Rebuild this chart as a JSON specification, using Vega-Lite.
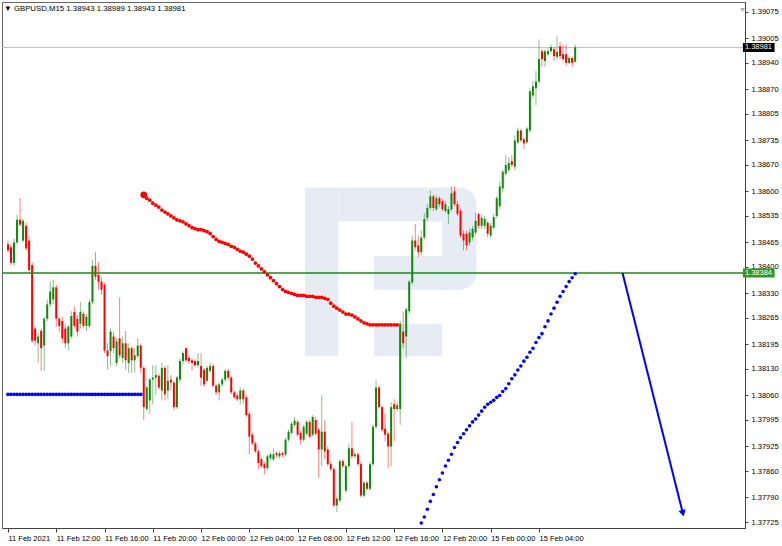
{
  "$schema": "https://vega.github.io/schema/vega-lite/v6.json",
  "width": 743,
  "height": 526,
  "autosize": {"type": "none"},
  "padding": {"left": 2, "top": 2, "right": 37, "bottom": 18},
  "background": "white",
  "config": {"view": {"stroke": "#666", "strokeWidth": 1}, "font": "Liberation Sans", "axis": {"labelOverlap": false}},
  "title": {"text": "▼ GBPUSD,M15  1.38943 1.38989 1.38943 1.38981", "anchor": "start", "frame": "group", "orient": "top", "offset": -11, "dx": 2, "fontSize": 7.8, "fontWeight": "normal", "font": "Liberation Sans", "color": "#000"},
  "datasets": {
    "candles": [
      {"i":0,"o":1.38460,"h":1.38470,"l":1.38439,"c":1.38444},
      {"i":1,"o":1.38452,"h":1.38460,"l":1.38403,"c":1.38411},
      {"i":2,"o":1.38411,"h":1.38475,"l":1.38403,"c":1.38465},
      {"i":3,"o":1.38465,"h":1.38538,"l":1.38460,"c":1.38525},
      {"i":4,"o":1.38525,"h":1.38582,"l":1.38507,"c":1.38512},
      {"i":5,"o":1.38470,"h":1.38527,"l":1.38465,"c":1.38522},
      {"i":6,"o":1.38509,"h":1.38517,"l":1.38444,"c":1.38449},
      {"i":7,"o":1.38470,"h":1.38481,"l":1.38387,"c":1.38392},
      {"i":8,"o":1.38405,"h":1.38413,"l":1.38198,"c":1.38205},
      {"i":9,"o":1.38237,"h":1.38242,"l":1.38192,"c":1.38205},
      {"i":10,"o":1.38198,"h":1.38224,"l":1.38146,"c":1.38216},
      {"i":11,"o":1.38231,"h":1.38237,"l":1.38125,"c":1.38185},
      {"i":12,"o":1.38192,"h":1.38268,"l":1.38125,"c":1.38263},
      {"i":13,"o":1.38263,"h":1.38314,"l":1.38257,"c":1.38301},
      {"i":14,"o":1.38301,"h":1.38361,"l":1.38294,"c":1.38335},
      {"i":15,"o":1.38314,"h":1.38366,"l":1.38301,"c":1.38346},
      {"i":16,"o":1.38346,"h":1.38353,"l":1.38242,"c":1.38263},
      {"i":17,"o":1.38263,"h":1.38268,"l":1.38229,"c":1.38244},
      {"i":18,"o":1.38257,"h":1.38268,"l":1.38198,"c":1.38211},
      {"i":19,"o":1.38237,"h":1.38247,"l":1.38185,"c":1.38198},
      {"i":20,"o":1.38198,"h":1.38247,"l":1.38179,"c":1.38242},
      {"i":21,"o":1.38216,"h":1.38283,"l":1.38211,"c":1.38270},
      {"i":22,"o":1.38281,"h":1.38296,"l":1.38237,"c":1.38244},
      {"i":23,"o":1.38263,"h":1.38273,"l":1.38216,"c":1.38229},
      {"i":24,"o":1.38250,"h":1.38307,"l":1.38237,"c":1.38281},
      {"i":25,"o":1.38276,"h":1.38283,"l":1.38237,"c":1.38244},
      {"i":26,"o":1.38244,"h":1.38276,"l":1.38231,"c":1.38268},
      {"i":27,"o":1.38244,"h":1.38314,"l":1.38237,"c":1.38307},
      {"i":28,"o":1.38307,"h":1.38418,"l":1.38301,"c":1.38403},
      {"i":29,"o":1.38403,"h":1.38439,"l":1.38366,"c":1.38374},
      {"i":30,"o":1.38379,"h":1.38413,"l":1.38340,"c":1.38361},
      {"i":31,"o":1.38361,"h":1.38372,"l":1.38327,"c":1.38340},
      {"i":32,"o":1.38353,"h":1.38359,"l":1.38172,"c":1.38179},
      {"i":33,"o":1.38179,"h":1.38198,"l":1.38128,"c":1.38164},
      {"i":34,"o":1.38177,"h":1.38237,"l":1.38138,"c":1.38229},
      {"i":35,"o":1.38216,"h":1.38229,"l":1.38172,"c":1.38185},
      {"i":36,"o":1.38146,"h":1.38211,"l":1.38138,"c":1.38203},
      {"i":37,"o":1.38211,"h":1.38320,"l":1.38159,"c":1.38166},
      {"i":38,"o":1.38159,"h":1.38216,"l":1.38146,"c":1.38198},
      {"i":39,"o":1.38198,"h":1.38231,"l":1.38128,"c":1.38153},
      {"i":40,"o":1.38146,"h":1.38198,"l":1.38120,"c":1.38185},
      {"i":41,"o":1.38185,"h":1.38190,"l":1.38120,"c":1.38153},
      {"i":42,"o":1.38153,"h":1.38185,"l":1.38120,"c":1.38166},
      {"i":43,"o":1.38164,"h":1.38211,"l":1.38159,"c":1.38192},
      {"i":44,"o":1.38192,"h":1.38198,"l":1.38120,"c":1.38133},
      {"i":45,"o":1.38133,"h":1.38138,"l":1.37995,"c":1.38029},
      {"i":46,"o":1.38024,"h":1.38086,"l":1.38019,"c":1.38081},
      {"i":47,"o":1.38047,"h":1.38107,"l":1.38011,"c":1.38102},
      {"i":48,"o":1.38102,"h":1.38140,"l":1.38037,"c":1.38107},
      {"i":49,"o":1.38107,"h":1.38140,"l":1.38063,"c":1.38114},
      {"i":50,"o":1.38112,"h":1.38117,"l":1.38076,"c":1.38081},
      {"i":51,"o":1.38073,"h":1.38146,"l":1.38047,"c":1.38133},
      {"i":52,"o":1.38133,"h":1.38138,"l":1.38047,"c":1.38063},
      {"i":53,"o":1.38073,"h":1.38140,"l":1.38050,"c":1.38099},
      {"i":54,"o":1.38102,"h":1.38114,"l":1.38073,"c":1.38094},
      {"i":55,"o":1.38094,"h":1.38099,"l":1.38021,"c":1.38029},
      {"i":56,"o":1.38029,"h":1.38112,"l":1.38024,"c":1.38107},
      {"i":57,"o":1.38102,"h":1.38159,"l":1.38094,"c":1.38151},
      {"i":58,"o":1.38151,"h":1.38177,"l":1.38143,"c":1.38172},
      {"i":59,"o":1.38185,"h":1.38187,"l":1.38148,"c":1.38153},
      {"i":60,"o":1.38159,"h":1.38166,"l":1.38143,"c":1.38151},
      {"i":61,"o":1.38153,"h":1.38159,"l":1.38125,"c":1.38146},
      {"i":62,"o":1.38151,"h":1.38156,"l":1.38135,"c":1.38140},
      {"i":63,"o":1.38140,"h":1.38172,"l":1.38133,"c":1.38151},
      {"i":64,"o":1.38138,"h":1.38172,"l":1.38086,"c":1.38107},
      {"i":65,"o":1.38128,"h":1.38133,"l":1.38083,"c":1.38089},
      {"i":66,"o":1.38099,"h":1.38138,"l":1.38094,"c":1.38133},
      {"i":67,"o":1.38125,"h":1.38146,"l":1.38120,"c":1.38138},
      {"i":68,"o":1.38138,"h":1.38143,"l":1.38081,"c":1.38086},
      {"i":69,"o":1.38086,"h":1.38091,"l":1.38060,"c":1.38068},
      {"i":70,"o":1.38068,"h":1.38094,"l":1.38047,"c":1.38089},
      {"i":71,"o":1.38089,"h":1.38107,"l":1.38083,"c":1.38102},
      {"i":72,"o":1.38102,"h":1.38130,"l":1.38096,"c":1.38125},
      {"i":73,"o":1.38125,"h":1.38130,"l":1.38102,"c":1.38107},
      {"i":74,"o":1.38107,"h":1.38112,"l":1.38063,"c":1.38068},
      {"i":75,"o":1.38068,"h":1.38073,"l":1.38050,"c":1.38055},
      {"i":76,"o":1.38060,"h":1.38065,"l":1.38044,"c":1.38050},
      {"i":77,"o":1.38050,"h":1.38081,"l":1.38037,"c":1.38073},
      {"i":78,"o":1.38073,"h":1.38078,"l":1.38039,"c":1.38050},
      {"i":79,"o":1.38055,"h":1.38060,"l":1.38003,"c":1.38008},
      {"i":80,"o":1.38011,"h":1.38016,"l":1.37904,"c":1.37951},
      {"i":81,"o":1.37956,"h":1.37961,"l":1.37928,"c":1.37933},
      {"i":82,"o":1.37933,"h":1.37938,"l":1.37907,"c":1.37912},
      {"i":83,"o":1.37912,"h":1.37917,"l":1.37865,"c":1.37881},
      {"i":84,"o":1.37891,"h":1.37896,"l":1.37868,"c":1.37873},
      {"i":85,"o":1.37878,"h":1.37884,"l":1.37852,"c":1.37868},
      {"i":86,"o":1.37868,"h":1.37904,"l":1.37863,"c":1.37899},
      {"i":87,"o":1.37894,"h":1.37909,"l":1.37889,"c":1.37904},
      {"i":88,"o":1.37891,"h":1.37920,"l":1.37886,"c":1.37904},
      {"i":89,"o":1.37907,"h":1.37912,"l":1.37896,"c":1.37902},
      {"i":90,"o":1.37899,"h":1.37912,"l":1.37894,"c":1.37907},
      {"i":91,"o":1.37907,"h":1.37912,"l":1.37896,"c":1.37902},
      {"i":92,"o":1.37904,"h":1.37948,"l":1.37899,"c":1.37943},
      {"i":93,"o":1.37943,"h":1.37969,"l":1.37938,"c":1.37964},
      {"i":94,"o":1.37961,"h":1.37990,"l":1.37956,"c":1.37985},
      {"i":95,"o":1.37982,"h":1.38003,"l":1.37977,"c":1.37993},
      {"i":96,"o":1.37990,"h":1.37995,"l":1.37951,"c":1.37956},
      {"i":97,"o":1.37961,"h":1.37967,"l":1.37930,"c":1.37943},
      {"i":98,"o":1.37943,"h":1.37982,"l":1.37938,"c":1.37977},
      {"i":99,"o":1.37959,"h":1.37995,"l":1.37954,"c":1.37990},
      {"i":100,"o":1.37990,"h":1.37995,"l":1.37946,"c":1.37951},
      {"i":101,"o":1.37956,"h":1.38008,"l":1.37951,"c":1.38003},
      {"i":102,"o":1.37995,"h":1.38003,"l":1.37954,"c":1.37959},
      {"i":103,"o":1.37969,"h":1.37974,"l":1.37842,"c":1.37917},
      {"i":104,"o":1.37917,"h":1.38060,"l":1.37873,"c":1.37964},
      {"i":105,"o":1.37964,"h":1.37995,"l":1.37891,"c":1.37912},
      {"i":106,"o":1.37917,"h":1.37925,"l":1.37873,"c":1.37878},
      {"i":107,"o":1.37878,"h":1.37884,"l":1.37860,"c":1.37865},
      {"i":108,"o":1.37865,"h":1.37871,"l":1.37764,"c":1.37769},
      {"i":109,"o":1.37769,"h":1.37793,"l":1.37751,"c":1.37787},
      {"i":110,"o":1.37782,"h":1.37891,"l":1.37777,"c":1.37886},
      {"i":111,"o":1.37886,"h":1.37891,"l":1.37868,"c":1.37873},
      {"i":112,"o":1.37808,"h":1.37878,"l":1.37803,"c":1.37873},
      {"i":113,"o":1.37873,"h":1.37933,"l":1.37868,"c":1.37920},
      {"i":114,"o":1.37920,"h":1.37990,"l":1.37894,"c":1.37899},
      {"i":115,"o":1.37899,"h":1.37909,"l":1.37894,"c":1.37904},
      {"i":116,"o":1.37904,"h":1.37909,"l":1.37873,"c":1.37878},
      {"i":117,"o":1.37878,"h":1.37884,"l":1.37790,"c":1.37795},
      {"i":118,"o":1.37795,"h":1.37834,"l":1.37790,"c":1.37829},
      {"i":119,"o":1.37829,"h":1.37834,"l":1.37808,"c":1.37813},
      {"i":120,"o":1.37813,"h":1.37884,"l":1.37808,"c":1.37878},
      {"i":121,"o":1.37878,"h":1.37982,"l":1.37873,"c":1.37977},
      {"i":122,"o":1.37977,"h":1.38099,"l":1.37972,"c":1.38081},
      {"i":123,"o":1.38081,"h":1.38086,"l":1.38024,"c":1.38029},
      {"i":124,"o":1.38029,"h":1.38034,"l":1.37964,"c":1.37969},
      {"i":125,"o":1.37972,"h":1.38011,"l":1.37938,"c":1.37956},
      {"i":126,"o":1.37959,"h":1.37964,"l":1.37868,"c":1.37925},
      {"i":127,"o":1.37925,"h":1.38042,"l":1.37873,"c":1.38029},
      {"i":128,"o":1.38037,"h":1.38050,"l":1.37938,"c":1.38024},
      {"i":129,"o":1.38024,"h":1.38042,"l":1.38019,"c":1.38034},
      {"i":130,"o":1.38024,"h":1.38257,"l":1.37982,"c":1.38250},
      {"i":131,"o":1.38229,"h":1.38283,"l":1.38185,"c":1.38198},
      {"i":132,"o":1.38216,"h":1.38294,"l":1.38159,"c":1.38288},
      {"i":133,"o":1.38283,"h":1.38366,"l":1.38276,"c":1.38361},
      {"i":134,"o":1.38359,"h":1.38483,"l":1.38353,"c":1.38470},
      {"i":135,"o":1.38470,"h":1.38514,"l":1.38444,"c":1.38452},
      {"i":136,"o":1.38457,"h":1.38483,"l":1.38426,"c":1.38439},
      {"i":137,"o":1.38439,"h":1.38496,"l":1.38431,"c":1.38478},
      {"i":138,"o":1.38478,"h":1.38543,"l":1.38473,"c":1.38527},
      {"i":139,"o":1.38530,"h":1.38566,"l":1.38522,"c":1.38556},
      {"i":140,"o":1.38556,"h":1.38603,"l":1.38551,"c":1.38587},
      {"i":141,"o":1.38587,"h":1.38592,"l":1.38548,"c":1.38556},
      {"i":142,"o":1.38553,"h":1.38590,"l":1.38548,"c":1.38582},
      {"i":143,"o":1.38582,"h":1.38587,"l":1.38558,"c":1.38566},
      {"i":144,"o":1.38574,"h":1.38579,"l":1.38548,"c":1.38553},
      {"i":145,"o":1.38548,"h":1.38574,"l":1.38543,"c":1.38566},
      {"i":146,"o":1.38540,"h":1.38561,"l":1.38514,"c":1.38553},
      {"i":147,"o":1.38553,"h":1.38613,"l":1.38548,"c":1.38595},
      {"i":148,"o":1.38600,"h":1.38613,"l":1.38561,"c":1.38566},
      {"i":149,"o":1.38566,"h":1.38574,"l":1.38535,"c":1.38540},
      {"i":150,"o":1.38548,"h":1.38553,"l":1.38478,"c":1.38483},
      {"i":151,"o":1.38488,"h":1.38496,"l":1.38444,"c":1.38470},
      {"i":152,"o":1.38488,"h":1.38496,"l":1.38444,"c":1.38457},
      {"i":153,"o":1.38465,"h":1.38501,"l":1.38457,"c":1.38491},
      {"i":154,"o":1.38478,"h":1.38509,"l":1.38470,"c":1.38501},
      {"i":155,"o":1.38491,"h":1.38543,"l":1.38486,"c":1.38522},
      {"i":156,"o":1.38540,"h":1.38543,"l":1.38501,"c":1.38509},
      {"i":157,"o":1.38509,"h":1.38538,"l":1.38501,"c":1.38530},
      {"i":158,"o":1.38509,"h":1.38535,"l":1.38501,"c":1.38527},
      {"i":159,"o":1.38517,"h":1.38522,"l":1.38478,"c":1.38488},
      {"i":160,"o":1.38483,"h":1.38517,"l":1.38475,"c":1.38509},
      {"i":161,"o":1.38504,"h":1.38540,"l":1.38499,"c":1.38532},
      {"i":162,"o":1.38535,"h":1.38587,"l":1.38530,"c":1.38582},
      {"i":163,"o":1.38561,"h":1.38626,"l":1.38553,"c":1.38613},
      {"i":164,"o":1.38608,"h":1.38657,"l":1.38600,"c":1.38652},
      {"i":165,"o":1.38647,"h":1.38696,"l":1.38642,"c":1.38670},
      {"i":166,"o":1.38657,"h":1.38691,"l":1.38652,"c":1.38675},
      {"i":167,"o":1.38680,"h":1.38696,"l":1.38665,"c":1.38670},
      {"i":168,"o":1.38665,"h":1.38748,"l":1.38657,"c":1.38735},
      {"i":169,"o":1.38730,"h":1.38769,"l":1.38725,"c":1.38761},
      {"i":170,"o":1.38761,"h":1.38766,"l":1.38730,"c":1.38735},
      {"i":171,"o":1.38738,"h":1.38743,"l":1.38712,"c":1.38727},
      {"i":172,"o":1.38730,"h":1.38771,"l":1.38725,"c":1.38766},
      {"i":173,"o":1.38761,"h":1.38873,"l":1.38756,"c":1.38865},
      {"i":174,"o":1.38854,"h":1.38893,"l":1.38847,"c":1.38878},
      {"i":175,"o":1.38873,"h":1.38919,"l":1.38828,"c":1.38891},
      {"i":176,"o":1.38891,"h":1.39002,"l":1.38886,"c":1.38950},
      {"i":177,"o":1.38971,"h":1.38976,"l":1.38930,"c":1.38950},
      {"i":178,"o":1.38945,"h":1.38976,"l":1.38930,"c":1.38971},
      {"i":179,"o":1.38963,"h":1.38979,"l":1.38958,"c":1.38971},
      {"i":180,"o":1.38971,"h":1.38989,"l":1.38969,"c":1.38982},
      {"i":181,"o":1.38976,"h":1.38982,"l":1.38945,"c":1.38958},
      {"i":182,"o":1.38956,"h":1.39010,"l":1.38950,"c":1.38969},
      {"i":183,"o":1.38984,"h":1.38995,"l":1.38950,"c":1.38958},
      {"i":184,"o":1.38963,"h":1.38989,"l":1.38943,"c":1.38950},
      {"i":185,"o":1.38963,"h":1.38989,"l":1.38932,"c":1.38940},
      {"i":186,"o":1.38940,"h":1.38958,"l":1.38937,"c":1.38953},
      {"i":187,"o":1.38953,"h":1.38958,"l":1.38930,"c":1.38940},
      {"i":188,"o":1.38943,"h":1.38989,"l":1.38943,"c":1.38981}
    ],
    "redDots": [
      {"i": 45, "p": 1.385908}, {"i": 46, "p": 1.385818}, {"i": 47, "p": 1.385766}, {"i": 48, "p": 1.385688}, {"i": 49, "p": 1.385636}, {"i": 50, "p": 1.385584}, {"i": 51, "p": 1.385506}, {"i": 52, "p": 1.385454}, {"i": 53, "p": 1.385402}, {"i": 54, "p": 1.385350}, {"i": 55, "p": 1.385298}, {"i": 56, "p": 1.385246}, {"i": 57, "p": 1.385221}, {"i": 58, "p": 1.385195}, {"i": 59, "p": 1.385143}, {"i": 60, "p": 1.385091}, {"i": 61, "p": 1.385039}, {"i": 62, "p": 1.385013}, {"i": 63, "p": 1.384987}, {"i": 64, "p": 1.384987}, {"i": 65, "p": 1.384961}, {"i": 66, "p": 1.384935}, {"i": 67, "p": 1.384883}, {"i": 68, "p": 1.384805}, {"i": 69, "p": 1.384727}, {"i": 70, "p": 1.384675}, {"i": 71, "p": 1.384649}, {"i": 72, "p": 1.384623}, {"i": 73, "p": 1.384597}, {"i": 74, "p": 1.384546}, {"i": 75, "p": 1.384520}, {"i": 76, "p": 1.384468}, {"i": 77, "p": 1.384416}, {"i": 78, "p": 1.384390}, {"i": 79, "p": 1.384338}, {"i": 80, "p": 1.384286}, {"i": 81, "p": 1.384208}, {"i": 82, "p": 1.384104}, {"i": 83, "p": 1.384026}, {"i": 84, "p": 1.383948}, {"i": 85, "p": 1.383871}, {"i": 86, "p": 1.383793}, {"i": 87, "p": 1.383715}, {"i": 88, "p": 1.383637}, {"i": 89, "p": 1.383559}, {"i": 90, "p": 1.383481}, {"i": 91, "p": 1.383403}, {"i": 92, "p": 1.383351}, {"i": 93, "p": 1.383325}, {"i": 94, "p": 1.383299}, {"i": 95, "p": 1.383274}, {"i": 96, "p": 1.383248}, {"i": 97, "p": 1.383248}, {"i": 98, "p": 1.383248}, {"i": 99, "p": 1.383222}, {"i": 100, "p": 1.383222}, {"i": 101, "p": 1.383222}, {"i": 102, "p": 1.383196}, {"i": 103, "p": 1.383196}, {"i": 104, "p": 1.383196}, {"i": 105, "p": 1.383170}, {"i": 106, "p": 1.383144}, {"i": 107, "p": 1.383040}, {"i": 108, "p": 1.382962}, {"i": 109, "p": 1.382910}, {"i": 110, "p": 1.382858}, {"i": 111, "p": 1.382806}, {"i": 112, "p": 1.382754}, {"i": 113, "p": 1.382754}, {"i": 114, "p": 1.382728}, {"i": 115, "p": 1.382676}, {"i": 116, "p": 1.382625}, {"i": 117, "p": 1.382573}, {"i": 118, "p": 1.382521}, {"i": 119, "p": 1.382495}, {"i": 120, "p": 1.382469}, {"i": 121, "p": 1.382469}, {"i": 122, "p": 1.382469}, {"i": 123, "p": 1.382469}, {"i": 124, "p": 1.382469}, {"i": 125, "p": 1.382469}, {"i": 126, "p": 1.382469}, {"i": 127, "p": 1.382469}, {"i": 128, "p": 1.382469}, {"i": 129, "p": 1.382469}
    ],
    "blueFlat": [
      {"i": 0, "p": 1.38063}, {"i": 1, "p": 1.38063}, {"i": 2, "p": 1.38063}, {"i": 3, "p": 1.38063}, {"i": 4, "p": 1.38063}, {"i": 5, "p": 1.38063}, {"i": 6, "p": 1.38063}, {"i": 7, "p": 1.38063}, {"i": 8, "p": 1.38063}, {"i": 9, "p": 1.38063}, {"i": 10, "p": 1.38063}, {"i": 11, "p": 1.38063}, {"i": 12, "p": 1.38063}, {"i": 13, "p": 1.38063}, {"i": 14, "p": 1.38063}, {"i": 15, "p": 1.38063}, {"i": 16, "p": 1.38063}, {"i": 17, "p": 1.38063}, {"i": 18, "p": 1.38063}, {"i": 19, "p": 1.38063}, {"i": 20, "p": 1.38063}, {"i": 21, "p": 1.38063}, {"i": 22, "p": 1.38063}, {"i": 23, "p": 1.38063}, {"i": 24, "p": 1.38063}, {"i": 25, "p": 1.38063}, {"i": 26, "p": 1.38063}, {"i": 27, "p": 1.38063}, {"i": 28, "p": 1.38063}, {"i": 29, "p": 1.38063}, {"i": 30, "p": 1.38063}, {"i": 31, "p": 1.38063}, {"i": 32, "p": 1.38063}, {"i": 33, "p": 1.38063}, {"i": 34, "p": 1.38063}, {"i": 35, "p": 1.38063}, {"i": 36, "p": 1.38063}, {"i": 37, "p": 1.38063}, {"i": 38, "p": 1.38063}, {"i": 39, "p": 1.38063}, {"i": 40, "p": 1.38063}, {"i": 41, "p": 1.38063}, {"i": 42, "p": 1.38063}, {"i": 43, "p": 1.38063}, {"i": 44, "p": 1.38063}
    ],
    "blueRise": [
      {"i": 137, "p": 1.377225}, {"i": 138, "p": 1.377381}, {"i": 139, "p": 1.377588}, {"i": 140, "p": 1.377796}, {"i": 141, "p": 1.377978}, {"i": 142, "p": 1.378185}, {"i": 143, "p": 1.378367}, {"i": 144, "p": 1.378549}, {"i": 145, "p": 1.378731}, {"i": 146, "p": 1.378886}, {"i": 147, "p": 1.379042}, {"i": 148, "p": 1.379224}, {"i": 149, "p": 1.379354}, {"i": 150, "p": 1.379483}, {"i": 151, "p": 1.379587}, {"i": 152, "p": 1.379691}, {"i": 153, "p": 1.379795}, {"i": 154, "p": 1.379899}, {"i": 155, "p": 1.379977}, {"i": 156, "p": 1.380080}, {"i": 157, "p": 1.380184}, {"i": 158, "p": 1.380288}, {"i": 159, "p": 1.380366}, {"i": 160, "p": 1.380418}, {"i": 161, "p": 1.380470}, {"i": 162, "p": 1.380548}, {"i": 163, "p": 1.380600}, {"i": 164, "p": 1.380703}, {"i": 165, "p": 1.380781}, {"i": 166, "p": 1.380911}, {"i": 167, "p": 1.381041}, {"i": 168, "p": 1.381145}, {"i": 169, "p": 1.381275}, {"i": 170, "p": 1.381378}, {"i": 171, "p": 1.381508}, {"i": 172, "p": 1.381612}, {"i": 173, "p": 1.381742}, {"i": 174, "p": 1.381846}, {"i": 175, "p": 1.382001}, {"i": 176, "p": 1.382131}, {"i": 177, "p": 1.382235}, {"i": 178, "p": 1.382417}, {"i": 179, "p": 1.382573}, {"i": 180, "p": 1.382754}, {"i": 181, "p": 1.382910}, {"i": 182, "p": 1.383066}, {"i": 183, "p": 1.383222}, {"i": 184, "p": 1.383351}, {"i": 185, "p": 1.383481}, {"i": 186, "p": 1.383611}, {"i": 187, "p": 1.383715}, {"i": 188, "p": 1.383819}
    ],
    "watermark": [
      {"a": 98.4, "b": 109.5, "lo": 1.38164, "hi": 1.38610},
      {"a": 109.5, "b": 144.5, "lo": 1.38520, "hi": 1.38610},
      {"a": 121.3, "b": 146.0, "lo": 1.38340, "hi": 1.38429},
      {"a": 121.3, "b": 143.9, "lo": 1.38164, "hi": 1.38250}
    ],
    "bowl": [{"a": 143.9, "b": 155.3, "lo": 1.38340, "hi": 1.38610}],
    "arrow": [{"i0": 203.7, "p0": 1.38384, "i1": 223.7, "p1": 1.37748}],
    "shift": [{"i": 243.5, "p": 1.39080}],
    "boxes": [{"k": "bid", "p": 1.38981, "t": "1.38981"}, {"k": "level", "p": 1.38384, "t": "1.38384"}]
  },
  "layer": [
    {
      "data": {"name": "watermark"},
      "mark": {"type": "rect", "color": "#e7ecf4"},
      "encoding": {
        "x": {"field": "a", "type": "quantitative", "scale": {"domain": [-0.327, 242.64], "nice": false, "zero": false},
          "axis": {"orient": "bottom", "values": [0, 16, 32, 48, 64, 80, 96, 112, 128, 144, 160, 176], "tickCount": 40, "labelExpr": "['11 Feb 2021','11 Feb 12:00','11 Feb 16:00','11 Feb 20:00','12 Feb 00:00','12 Feb 04:00','12 Feb 08:00','12 Feb 12:00','12 Feb 16:00','12 Feb 20:00','15 Feb 00:00','15 Feb 04:00'][round(datum.value/16)]", "labelAlign": "left", "labelPadding": 2, "labelFontSize": 7.5, "labelColor": "#000", "labelFlush": false, "labelOverlap": false, "tickSize": 4, "tickColor": "#444", "domainColor": "#444", "grid": false, "title": null, "labelBaseline": "top"}},
        "x2": {"field": "b"},
        "y": {"field": "lo", "type": "quantitative", "scale": {"domain": [1.377224, 1.39088], "nice": false, "zero": false},
          "axis": {"orient": "right", "values": [1.39075, 1.39005, 1.3894, 1.3887, 1.38805, 1.38735, 1.3867, 1.386, 1.38535, 1.38465, 1.384, 1.3833, 1.38265, 1.38195, 1.3813, 1.3806, 1.37995, 1.37925, 1.3786, 1.3779, 1.37725], "tickCount": 40, "format": ".5f", "labelPadding": 3, "labelFontSize": 7.5, "labelColor": "#000", "labelFlush": false, "labelOverlap": false, "tickSize": 3, "tickColor": "#444", "domainColor": "#444", "grid": false, "title": null}},
        "y2": {"field": "hi"}
      }
    },
    {
      "data": {"name": "bowl"},
      "mark": {"type": "rect", "color": "#e7ecf4", "cornerRadiusTopRight": 30, "cornerRadiusBottomRight": 26},
      "encoding": {
        "x": {"field": "a", "type": "quantitative", "scale": {"domain": [-0.327, 242.64], "nice": false, "zero": false}},
        "x2": {"field": "b"},
        "y": {"field": "lo", "type": "quantitative", "scale": {"domain": [1.377224, 1.39088], "nice": false, "zero": false}},
        "y2": {"field": "hi"}
      }
    },
    {
      "data": {"values": [{"p": 1.38981}]},
      "mark": {"type": "rule", "color": "#c0c0c0", "strokeWidth": 1},
      "encoding": {"y": {"field": "p", "type": "quantitative", "scale": {"domain": [1.377224, 1.39088], "nice": false, "zero": false}}}
    },
    {
      "data": {"name": "candles"},
      "mark": {"type": "rule", "strokeWidth": 1, "opacity": 0.5},
      "encoding": {
        "x": {"field": "i", "type": "quantitative", "scale": {"domain": [-0.327, 242.64], "nice": false, "zero": false}},
        "y": {"field": "l", "type": "quantitative", "scale": {"domain": [1.377224, 1.39088], "nice": false, "zero": false}},
        "y2": {"field": "h"},
        "color": {"condition": {"test": "datum.c >= datum.o", "value": "#0b8a0b"}, "value": "#ff0000"}
      }
    },
    {
      "data": {"name": "candles"},
      "mark": {"type": "bar", "width": 2},
      "encoding": {
        "x": {"field": "i", "type": "quantitative", "scale": {"domain": [-0.327, 242.64], "nice": false, "zero": false}},
        "y": {"field": "o", "type": "quantitative", "scale": {"domain": [1.377224, 1.39088], "nice": false, "zero": false}},
        "y2": {"field": "c"},
        "color": {"condition": {"test": "datum.c >= datum.o", "value": "#0b8a0b"}, "value": "#ff0000"}
      }
    },
    {
      "data": {"values": [{"p": 1.38384}]},
      "mark": {"type": "rule", "color": "#1a8a1a", "strokeWidth": 1.5},
      "encoding": {"y": {"field": "p", "type": "quantitative", "scale": {"domain": [1.377224, 1.39088], "nice": false, "zero": false}}}
    },
    {
      "data": {"name": "blueFlat"},
      "mark": {"type": "circle", "color": "#0000ff", "size": 14, "opacity": 1},
      "encoding": {
        "x": {"field": "i", "type": "quantitative", "scale": {"domain": [-0.327, 242.64], "nice": false, "zero": false}},
        "y": {"field": "p", "type": "quantitative", "scale": {"domain": [1.377224, 1.39088], "nice": false, "zero": false}}
      }
    },
    {
      "data": {"name": "redDots"},
      "mark": {"type": "circle", "color": "#ff0000", "size": 14, "opacity": 1},
      "encoding": {
        "x": {"field": "i", "type": "quantitative", "scale": {"domain": [-0.327, 242.64], "nice": false, "zero": false}},
        "y": {"field": "p", "type": "quantitative", "scale": {"domain": [1.377224, 1.39088], "nice": false, "zero": false}},
        "size": {"condition": {"test": "datum.i == 45", "value": 45}, "value": 14}
      }
    },
    {
      "data": {"name": "blueRise"},
      "mark": {"type": "circle", "color": "#0000ff", "size": 13, "opacity": 1},
      "encoding": {
        "x": {"field": "i", "type": "quantitative", "scale": {"domain": [-0.327, 242.64], "nice": false, "zero": false}},
        "y": {"field": "p", "type": "quantitative", "scale": {"domain": [1.377224, 1.39088], "nice": false, "zero": false}}
      }
    },
    {
      "data": {"name": "arrow"},
      "mark": {"type": "rule", "color": "#0000ff", "strokeWidth": 2},
      "encoding": {
        "x": {"field": "i0", "type": "quantitative", "scale": {"domain": [-0.327, 242.64], "nice": false, "zero": false}},
        "y": {"field": "p0", "type": "quantitative", "scale": {"domain": [1.377224, 1.39088], "nice": false, "zero": false}},
        "x2": {"field": "i1"},
        "y2": {"field": "p1"}
      }
    },
    {
      "data": {"name": "arrow"},
      "mark": {"type": "point", "shape": "triangle-down", "filled": true, "color": "#0000ff", "size": 55, "angle": 346, "opacity": 1},
      "encoding": {
        "x": {"field": "i1", "type": "quantitative", "scale": {"domain": [-0.327, 242.64], "nice": false, "zero": false}},
        "y": {"field": "p1", "type": "quantitative", "scale": {"domain": [1.377224, 1.39088], "nice": false, "zero": false}}
      }
    },
    {
      "data": {"name": "shift"},
      "mark": {"type": "point", "shape": "triangle-down", "filled": true, "color": "#b0b0b0", "size": 22, "opacity": 1},
      "encoding": {
        "x": {"field": "i", "type": "quantitative", "scale": {"domain": [-0.327, 242.64], "nice": false, "zero": false}},
        "y": {"field": "p", "type": "quantitative", "scale": {"domain": [1.377224, 1.39088], "nice": false, "zero": false}}
      }
    },
    {
      "data": {"name": "boxes"},
      "mark": {"type": "bar", "height": 9},
      "encoding": {
        "x": {"datum": 243.6, "type": "quantitative", "scale": {"domain": [-0.327, 242.64], "nice": false, "zero": false}},
        "x2": {"datum": 254.1},
        "y": {"field": "p", "type": "quantitative", "scale": {"domain": [1.377224, 1.39088], "nice": false, "zero": false}},
        "color": {"field": "k", "type": "nominal", "scale": {"domain": ["bid", "level"], "range": ["#000000", "#2a9a2a"]}, "legend": null}
      }
    },
    {
      "data": {"name": "boxes"},
      "mark": {"type": "text", "align": "left", "baseline": "middle", "color": "#ffffff", "fontSize": 7.5, "dx": 2},
      "encoding": {
        "x": {"datum": 243.6, "type": "quantitative", "scale": {"domain": [-0.327, 242.64], "nice": false, "zero": false}},
        "y": {"field": "p", "type": "quantitative", "scale": {"domain": [1.377224, 1.39088], "nice": false, "zero": false}},
        "text": {"field": "t"}
      }
    }
  ]
}
